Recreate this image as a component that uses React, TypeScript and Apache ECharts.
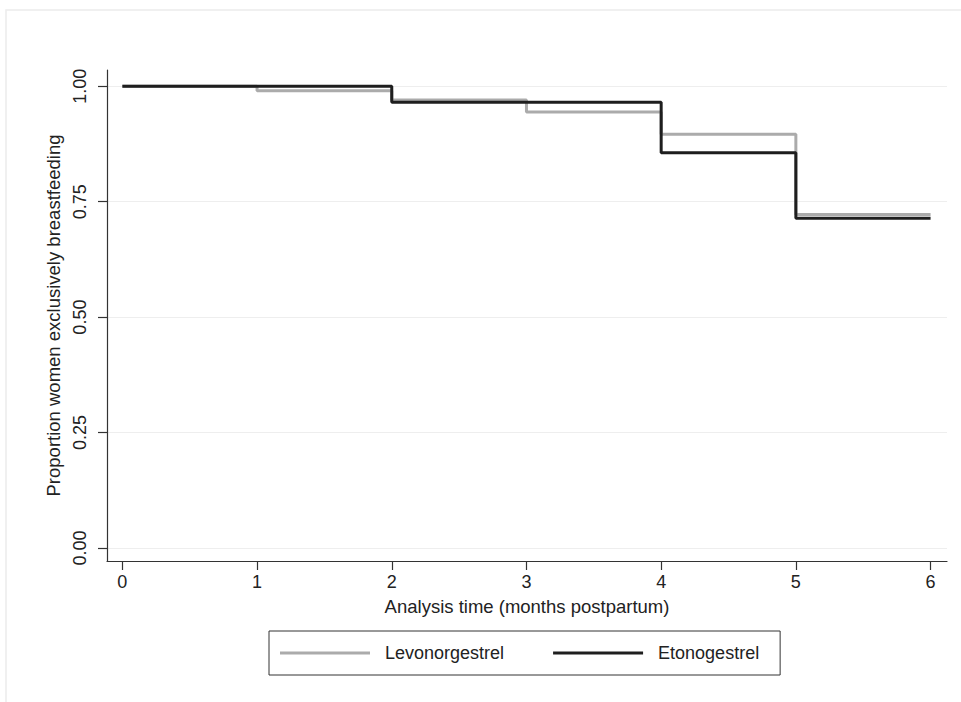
import React, { useEffect, useRef } from "react";
import * as echarts from "echarts";

const timeMonths = [0, 1, 2, 3, 4, 5, 6];
const levonorgestrel = [1.0, 0.99, 0.97, 0.944, 0.896, 0.722, 0.722];
const etonogestrel = [1.0, 1.0, 0.965, 0.965, 0.856, 0.714, 0.714];
const xTicks = [0, 1, 2, 3, 4, 5, 6];
const yTicks = [0, 0.25, 0.5, 0.75, 1];
const seriesNames = ["Levonorgestrel", "Etonogestrel"];

const FONT = "'Liberation Sans', Arial, Helvetica, sans-serif";

export default function App() {
  const ref = useRef<HTMLDivElement>(null);
  useEffect(() => {
    if (!ref.current) return;
    const chart = echarts.init(ref.current, undefined, { renderer: "svg" });
    const toPts = (ys: number[]) => timeMonths.map((t, i) => [t, ys[i]]);
    chart.setOption({
      animation: false,
      backgroundColor: "#ffffff",
      textStyle: { fontFamily: FONT },
      graphic: [
        {
          type: "rect",
          shape: { x: 6, y: 10, width: 1200, height: 1200 },
          style: { fill: "none", stroke: "#ececec", lineWidth: 1.5 },
          silent: true,
          z: -10,
        },
      ],
      grid: {
        left: 107,
        right: 14,
        top: 70,
        bottom: 141,
        containLabel: false,
        outerBoundsMode: "none",
      },
      xAxis: {
        type: "value",
        min: -0.114,
        max: 6.122,
        name: "Analysis time (months postpartum)",
        nameLocation: "middle",
        nameGap: 36,
        nameTextStyle: { fontSize: 18.5, color: "#222", fontFamily: FONT },
        axisLine: { show: true, onZero: false, lineStyle: { color: "#333", width: 1.2 } },
        axisTick: { show: true, length: 9, customValues: xTicks, lineStyle: { color: "#333", width: 1.2 } },
        axisLabel: { customValues: xTicks, margin: 12, fontSize: 18, color: "#222", fontFamily: FONT },
        splitLine: { show: false },
      },
      yAxis: {
        type: "value",
        min: -0.028,
        max: 1.035,
        name: "Proportion women exclusively breastfeeding",
        nameLocation: "middle",
        nameGap: 41,
        nameRotate: 90,
        nameTextStyle: { fontSize: 18.5, color: "#222", fontFamily: FONT },
        axisLine: { show: true, onZero: false, lineStyle: { color: "#333", width: 1.2 } },
        axisTick: { show: true, length: 9, customValues: yTicks, lineStyle: { color: "#333", width: 1.2 } },
        axisLabel: {
          customValues: yTicks,
          rotate: 90,
          margin: 18,
          fontSize: 18,
          color: "#222",
          fontFamily: FONT,
          formatter: (v: number) => v.toFixed(2),
        },
        splitLine: { show: false },
      },
      legend: {
        data: seriesNames,
        left: 269,
        top: 631,
        orient: "horizontal",
        icon: "rect",
        itemWidth: 90,
        itemHeight: 3,
        itemGap: 49,
        padding: [12, 21, 12, 11],
        borderColor: "#333",
        borderWidth: 1,
        borderRadius: 0,
        textStyle: { fontSize: 18, color: "#222", fontFamily: FONT, padding: [0, 0, 0, 10], lineHeight: 20 },
      },
      series: [
        {
          type: "line",
          name: "gridlines",
          data: [],
          z: 0,
          silent: true,
          markLine: {
            silent: true,
            z: 0,
            symbol: ["none", "none"],
            label: { show: false },
            lineStyle: { color: "#eeeeee", type: "solid", width: 1.2 },
            data: yTicks.map((v) => ({ yAxis: v })),
          },
        },
        {
          type: "line",
          name: seriesNames[0],
          data: toPts(levonorgestrel),
          step: "end",
          symbol: "none",
          z: 2,
          lineStyle: { color: "#ababab", width: 3 },
          itemStyle: { color: "#ababab" },
        },
        {
          type: "line",
          name: seriesNames[1],
          data: toPts(etonogestrel),
          step: "end",
          symbol: "none",
          z: 3,
          lineStyle: { color: "#1e1e1e", width: 3 },
          itemStyle: { color: "#1e1e1e" },
        },
      ],
    });
    return () => chart.dispose();
  }, []);
  return (
    <div
      ref={ref}
      style={{ position: "fixed", left: 0, top: 0, width: 961, height: 702, background: "#fff" }}
    />
  );
}
